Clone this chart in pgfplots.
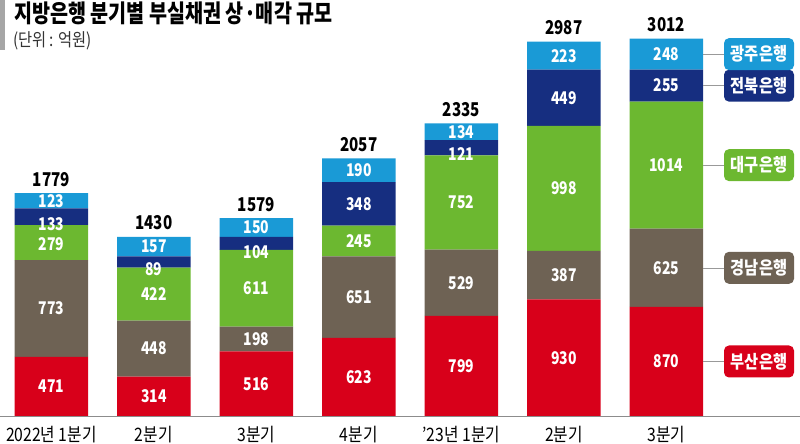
\documentclass[border=0pt]{standalone}
\usepackage{fontspec}
\setmainfont{Noto Sans CJK KR}[FakeStretch=0.85]
\newfontfamily\numfont{Noto Sans CJK KR}[FakeStretch=0.8]
\newfontfamily\titlefont{Noto Sans CJK KR}[FakeStretch=0.8]
\usepackage{pgfplots}
\pgfplotsset{compat=1.18}

\definecolor{gwangju}{RGB}{26,154,214}
\definecolor{jeonbuk}{RGB}{22,46,128}
\definecolor{daegu}{RGB}{108,184,48}
\definecolor{gyeongnam}{RGB}{110,98,84}
\definecolor{busan}{RGB}{216,0,26}

% segment values, bottom to top
\pgfplotstableread{
x busan gyeongnam daegu jeonbuk gwangju total
0 471 773 279 133 123 1779
1 314 448 422 89 157 1430
2 516 198 611 104 150 1579
3 623 651 245 348 190 2057
4 799 529 752 121 134 2335
5 930 387 998 449 223 2987
6 870 625 1014 255 248 3012
}\banks

% label positions (about the middle of each segment)
\pgfplotstableread{
x y v
0 235.5 471
0 857.5 773
0 1370 279
0 1533 133
0 1717.5 123
1 157 314
1 538 448
1 973 422
1 1168 89
1 1351.5 157
2 258 516
2 615 198
2 1019.5 611
2 1310 104
2 1504 150
3 311.5 623
3 948.5 651
3 1396.5 245
3 1693 348
3 1962 190
4 399.5 799
4 1063.5 529
4 1704 752
4 2088 121
4 2268 134
5 465 930
5 1123.5 387
5 1816 998
5 2539.5 449
5 2875.5 223
6 435 870
6 1182.5 625
6 2002 1014
6 2636.5 255
6 2888 248
}\midlabels

\pgfplotsset{
  base/.style={
    at={(0pt,28pt)}, anchor=south west,
    scale only axis, width=800pt, height=416pt,
    xmin=-0.5005, xmax=7.304, ymin=0, ymax=3320,
  },
}
\tikzset{
  banktag/.style={fill=#1, text=white, rounded corners=5pt, minimum width=70pt,
    minimum height=32pt, inner sep=0,
    font=\bfseries\fontsize{18}{18}\selectfont},
}

\begin{document}
\begin{tikzpicture}
\useasboundingbox (0,0) rectangle (800pt,444pt);
\fill[black!35] (0,444pt) rectangle (5pt,394pt);
\node[anchor=base west, inner sep=0, font=\titlefont\bfseries\fontsize{24.5}{24.5}\selectfont]
  at (14pt,421pt) {지방은행 분기별 부실채권 상·매각 규모};
\node[anchor=base west, inner sep=0, text=black!80, font=\fontsize{18}{18}\selectfont]
  at (13pt,397pt) {(단위 : 억원)};

\begin{axis}[base,
  ybar stacked, bar width=0.717,
  axis x line=bottom, axis y line=none,
  x axis line style={draw=black!45, -},
  xtick=data, xtick style={draw=none},
  xticklabels={2022년 1분기, 2분기, 3분기, 4분기, ’23년 1분기, 2분기, 3분기},
  xticklabel style={font=\fontsize{18.5}{18.5}\selectfont, yshift=-5pt},
  ytick=\empty,
]
\addplot[fill=busan, draw=none] table[x=x, y=busan] {\banks};
\addplot[fill=gyeongnam, draw=none] table[x=x, y=gyeongnam] {\banks};
\addplot[fill=daegu, draw=none] table[x=x, y=daegu] {\banks};
\addplot[fill=jeonbuk, draw=none] table[x=x, y=jeonbuk] {\banks};
\addplot[fill=gwangju, draw=none] table[x=x, y=gwangju] {\banks};
\end{axis}

\begin{axis}[base, hide axis, clip=false]
\addplot[draw=none, mark=none, nodes near coords, point meta=explicit symbolic,
  every node near coord/.style={anchor=center, inner sep=0, text=white,
    font=\numfont\bfseries\fontsize{17.5}{17.5}\selectfont}]
  table[x=x, y=y, meta=v] {\midlabels};
\addplot[draw=none, mark=none, nodes near coords, point meta=explicit symbolic,
  every node near coord/.style={anchor=base, inner sep=0, yshift=7pt, text=black,
    font=\numfont\bfseries\fontsize{19}{19}\selectfont}]
  table[x=x, y=total, meta=total] {\banks};

% bank tags next to the last bar
\node[banktag=busan] (t1) at (axis cs:6.904,435) {부산은행};
\node[banktag=gyeongnam] (t2) at (axis cs:6.904,1182.5) {경남은행};
\node[banktag=daegu] (t3) at (axis cs:6.904,2002) {대구은행};
\node[banktag=jeonbuk] (t4) at (axis cs:6.904,2636.5) {전북은행};
\node[banktag=gwangju] (t5) at (axis cs:6.904,2888) {광주은행};
\draw[black!40] (axis cs:6.3585,435) -- (t1.west);
\draw[black!40] (axis cs:6.3585,1182.5) -- (t2.west);
\draw[black!40] (axis cs:6.3585,2002) -- (t3.west);
\draw[black!40] (axis cs:6.3585,2636.5) -- (t4.west);
\draw[black!40] (axis cs:6.3585,2888) -- (t5.west);
\end{axis}
\end{tikzpicture}
\end{document}
